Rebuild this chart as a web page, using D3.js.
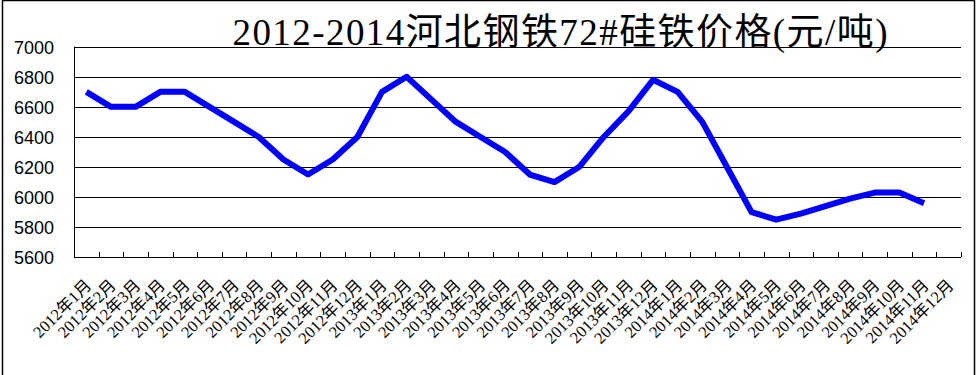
<!DOCTYPE html>
<html>
<head>
<meta charset="utf-8">
<script src="https://cdn.jsdelivr.net/npm/d3@7"></script>
<style>
  body { margin: 0; background: #fff; }
  svg { display: block; }
</style>
</head>
<body>
<div id="chart"></div>
<script>
// month labels on the x axis
var months = [
  "2012年1月", "2012年2月", "2012年3月", "2012年4月", "2012年5月", "2012年6月",
  "2012年7月", "2012年8月", "2012年9月", "2012年10月", "2012年11月", "2012年12月",
  "2013年1月", "2013年2月", "2013年3月", "2013年4月", "2013年5月", "2013年6月",
  "2013年7月", "2013年8月", "2013年9月", "2013年10月", "2013年11月", "2013年12月",
  "2014年1月", "2014年2月", "2014年3月", "2014年4月", "2014年5月", "2014年6月",
  "2014年7月", "2014年8月", "2014年9月", "2014年10月", "2014年11月", "2014年12月"
];

// price (yuan / ton); no value for 2014-12
var prices = [
  6700, 6600, 6600, 6700, 6700, 6600, 6500, 6400, 6250, 6150, 6250, 6400,
  6700, 6800, 6650, 6500, 6400, 6300, 6150, 6100, 6200, 6400, 6570, 6780,
  6700, 6500, 6200, 5900, 5850, 5890, 5940, 5990, 6030, 6030, 5960, null
];

var yTicks = [5600, 5800, 6000, 6200, 6400, 6600, 6800, 7000];

var title = "2012-2014河北钢铁72#硅铁价格(元/吨)";

var width = 977;
var height = 375;
var margin = {top: 46.7, right: 16, bottom: 117.7, left: 74};

var svg = d3.select("#chart")
    .append("svg")
    .attr("width", width)
    .attr("height", height);

// outer frame
svg.append("rect")
    .attr("x", 2.5)
    .attr("y", 0.5)
    .attr("width", 972)
    .attr("height", 400)
    .attr("fill", "none")
    .attr("stroke", "#000")
    .attr("stroke-width", 1.5);

var x = d3.scaleBand()
    .domain(months)
    .range([margin.left, width - margin.right])
    .paddingInner(0)
    .paddingOuter(0);

var y = d3.scaleLinear()
    .domain([5600, 7000])
    .range([height - margin.bottom, margin.top]);

var plotLeft = margin.left;
var plotRight = width - margin.right;
var plotBottom = height - margin.bottom;

// horizontal grid lines
svg.append("g")
    .selectAll("line")
    .data(yTicks.filter(function(d) { return d > 5600; }))
  .enter().append("line")
    .attr("x1", plotLeft)
    .attr("x2", plotRight)
    .attr("y1", function(d) { return Math.round(y(d)) + 0.5; })
    .attr("y2", function(d) { return Math.round(y(d)) + 0.5; })
    .attr("stroke", "#000")
    .attr("stroke-width", 1);

// y labels
svg.append("g")
    .selectAll("text")
    .data(yTicks)
  .enter().append("text")
    .attr("x", 54)
    .attr("y", function(d) { return y(d) + 7; })
    .attr("text-anchor", "end")
    .attr("font-family", "'Liberation Sans', Arial, sans-serif")
    .attr("font-size", 18)
    .attr("fill", "#000")
    .text(function(d) { return d; });

// axis lines
svg.append("line")
    .attr("x1", Math.round(plotLeft) + 0.5)
    .attr("x2", Math.round(plotLeft) + 0.5)
    .attr("y1", y(7000))
    .attr("y2", Math.round(plotBottom) + 0.5)
    .attr("stroke", "#000");

svg.append("line")
    .attr("x1", plotLeft)
    .attr("x2", plotRight)
    .attr("y1", Math.round(plotBottom) + 0.5)
    .attr("y2", Math.round(plotBottom) + 0.5)
    .attr("stroke", "#000");

// tick marks between categories (pointing up)
var tickX = months.map(function(m) { return x(m); }).concat([x.range()[1]]);
svg.append("g")
    .selectAll("line")
    .data(tickX.slice(1))
  .enter().append("line")
    .attr("x1", function(d) { return Math.round(d) + 0.5; })
    .attr("x2", function(d) { return Math.round(d) + 0.5; })
    .attr("y1", Math.round(plotBottom))
    .attr("y2", Math.round(plotBottom) - 5)
    .attr("stroke", "#000");

// rotated month labels
svg.append("g")
    .selectAll("text")
    .data(months)
  .enter().append("text")
    .attr("transform", function(d) {
      var cx = x(d) + x.bandwidth() / 2;
      return "translate(" + (cx + 6) + "," + (plotBottom + 29) + ")rotate(-45)";
    })
    .attr("text-anchor", "end")
    .attr("font-family", "'Liberation Serif', 'Noto Sans CJK SC', serif")
    .attr("font-size", 16.5)
    .attr("fill", "#000")
    .text(function(d) { return d; });

// the price line
var line = d3.line()
    .defined(function(d) { return d != null; })
    .x(function(d, i) { return x(months[i]) + x.bandwidth() / 2; })
    .y(function(d) { return y(d); });

svg.append("path")
    .datum(prices)
    .attr("d", line)
    .attr("fill", "none")
    .attr("stroke", "#0000ff")
    .attr("stroke-width", 6)
    .attr("stroke-linejoin", "round")
    .attr("stroke-linecap", "butt");

// title
svg.append("text")
    .attr("x", 560)
    .attr("y", 45)
    .attr("text-anchor", "middle")
    .attr("font-family", "'Liberation Serif', 'Noto Sans CJK SC', serif")
    .attr("font-size", 37)
    .attr("textLength", 655)
    .attr("lengthAdjust", "spacing")
    .attr("fill", "#000")
    .text(title);
</script>
</body>
</html>
